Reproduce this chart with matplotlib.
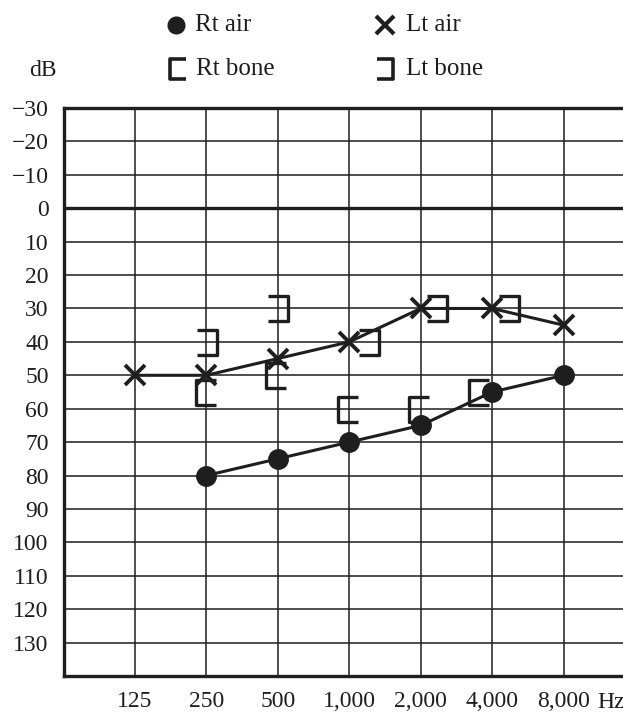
import matplotlib
matplotlib.use("Agg")
import matplotlib.pyplot as plt
from matplotlib.path import Path
import numpy as np

freq_labels = ["125", "250", "500", "1,000", "2,000", "4,000", "8,000"]

# hearing levels in dB, indexed by frequency position
rt_air_idx = [1, 2, 3, 4, 5, 6]
rt_air_db = [80, 75, 70, 65, 55, 50]

lt_air_idx = [0, 1, 2, 3, 4, 5, 6]
lt_air_db = [50, 50, 45, 40, 30, 30, 35]

rt_bone_idx = [1, 2, 3, 4, 5]
rt_bone_db = [55, 50, 60, 60, 55]

lt_bone_idx = [1, 2, 3, 4, 5]
lt_bone_db = [40, 30, 40, 30, 30]

# small sideways nudges so brackets do not sit on the air symbols
rt_bone_shift = [0.0, -0.02, -0.02, -0.02, -0.19]
lt_bone_shift = [0.01, 0.0, 0.27, 0.23, 0.24]

db_ticks = list(range(-30, 140, 10))

INK = "#1e1e1e"
FONT = "Liberation Serif"
FS = 17

left_br = Path([(0.39, 0.5), (-0.39, 0.5), (-0.39, -0.5), (0.39, -0.5)],
               [Path.MOVETO, Path.LINETO, Path.LINETO, Path.LINETO])
right_br = Path([(-0.39, 0.5), (0.39, 0.5), (0.39, -0.5), (-0.39, -0.5)],
                [Path.MOVETO, Path.LINETO, Path.LINETO, Path.LINETO])

plt.rcParams["font.family"] = [FONT, "DejaVu Serif"]

fig = plt.figure(figsize=(6.23, 7.15), dpi=100)
ax = fig.add_axes([64 / 623, 1 - 676 / 715, 1 - 64 / 623, (676 - 108) / 715])

ax.set_xlim(-0.99, 6.83)
ax.set_ylim(140, -30)

# grid
for d in db_ticks[1:]:
    ax.axhline(d, color=INK, lw=2.4 if d == 0 else 1.1, zorder=1)
for i in range(len(freq_labels)):
    ax.axvline(i, color=INK, lw=1.1, zorder=1)

for side in ["left", "top", "bottom"]:
    ax.spines[side].set_linewidth(2.4)
    ax.spines[side].set_color(INK)
ax.spines["right"].set_visible(False)

ax.plot(rt_air_idx, rt_air_db, color=INK, lw=2.2, marker="o", ms=14, zorder=3)
ax.plot(lt_air_idx, lt_air_db, color=INK, lw=2.2, marker="x", ms=15, mew=2.8, zorder=3)

ax.plot(np.array(rt_bone_idx) + np.array(rt_bone_shift), rt_bone_db, ls="none",
        marker=left_br, ms=18, mew=2.4, mfc="none", mec=INK, zorder=4)
ax.plot(np.array(lt_bone_idx) + np.array(lt_bone_shift), lt_bone_db, ls="none",
        marker=right_br, ms=18, mew=2.4, mfc="none", mec=INK, zorder=4)

ax.set_yticks(db_ticks)
ax.set_yticklabels([f"\u2212{-d}" if d < 0 else str(d) for d in db_ticks])
ax.set_xticks(range(len(freq_labels)))
ax.set_xticklabels(freq_labels)
ax.tick_params(axis="both", length=0, labelsize=FS, colors=INK)
ax.tick_params(axis="y", pad=11)
ax.tick_params(axis="x", pad=11)

fig.text(597 / 623, 1 - 703 / 715, "Hz", fontsize=FS, color=INK, va="center", ha="left")
fig.text(43 / 623, 1 - 70 / 715, "dB", fontsize=FS, color=INK, va="center", ha="center")

# legend drawn as figure text
leg_y1 = 1 - 25 / 715
leg_y2 = 1 - 69 / 715
fig.lines.append(plt.Line2D([176 / 623], [leg_y1], transform=fig.transFigure,
                            marker="o", ms=12, color=INK))
fig.lines.append(plt.Line2D([385 / 623], [leg_y1], transform=fig.transFigure,
                            marker="x", ms=13, mew=3.0, color=INK))
fig.lines.append(plt.Line2D([178 / 623], [leg_y2], transform=fig.transFigure,
                            marker=left_br, ms=15, mew=2.6, mfc="none", mec=INK, ls="none"))
fig.lines.append(plt.Line2D([385 / 623], [leg_y2], transform=fig.transFigure,
                            marker=right_br, ms=15, mew=2.6, mfc="none", mec=INK, ls="none"))
for x, y, s in [(195, leg_y1, "Rt air"), (406, leg_y1, "Lt air"),
                (196, leg_y2, "Rt bone"), (406, leg_y2, "Lt bone")]:
    fig.text(x / 623, y, s, fontsize=FS + 1, color=INK, va="center", ha="left")

fig.savefig("out.png", dpi=100)
